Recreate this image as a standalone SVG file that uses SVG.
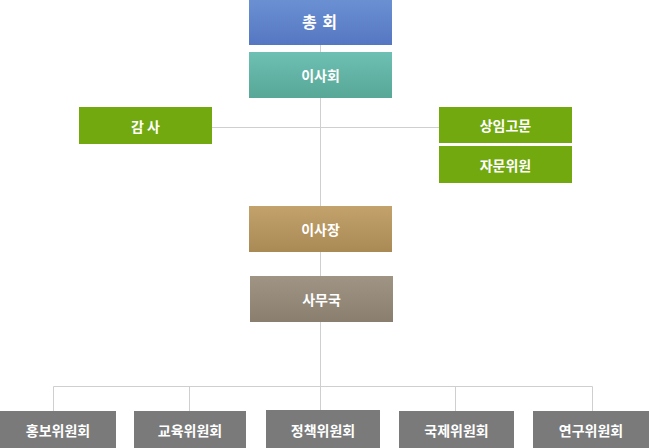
<svg xmlns="http://www.w3.org/2000/svg" width="649" height="448" viewBox="0 0 649 448">
<defs>
<linearGradient id="gBlue" x1="0" y1="0" x2="0" y2="1"><stop offset="0" stop-color="#6b90d2"/><stop offset="1" stop-color="#5577c2"/></linearGradient>
<linearGradient id="gTeal" x1="0" y1="0" x2="0" y2="1"><stop offset="0" stop-color="#6dc0b3"/><stop offset="1" stop-color="#58a797"/></linearGradient>
<linearGradient id="gGold" x1="0" y1="0" x2="0" y2="1"><stop offset="0" stop-color="#c3a26c"/><stop offset="1" stop-color="#a98a55"/></linearGradient>
<linearGradient id="gTaupe" x1="0" y1="0" x2="0" y2="1"><stop offset="0" stop-color="#a09585"/><stop offset="1" stop-color="#8a7f6f"/></linearGradient>
</defs>
<style>
text{font-family:"Noto Sans CJK KR","Noto Sans CJK SC",sans-serif;fill:#fff;text-anchor:middle;dominant-baseline:central;font-size:14px;font-weight:bold}
.green{fill:#72a90f}
.gray{fill:#7a7a7a}
.conn{stroke:#cfcfcf;stroke-width:1;fill:none}
</style>
<g id="connectors">
<path class="conn" d="M320.5 45V410"/>
<path class="conn" d="M212 127.5H439"/>
<path class="conn" d="M53.5 411V386.5H592.5V411M189.5 386.5V411M455.5 386.5V411"/>
</g>
<g id="n-chonghoe"><rect x="249" y="0" width="143" height="45" fill="url(#gBlue)"/><text x="320" y="21" style="font-size:16px;letter-spacing:1px">총 회</text></g>
<g id="n-isahoe"><rect x="249" y="52" width="143" height="46" fill="url(#gTeal)"/><text x="320.5" y="75">이사회</text></g>
<g id="n-gamsa"><rect class="green" x="79" y="107" width="133" height="37"/><text x="145.5" y="125.5">감 사</text></g>
<g id="n-sangim"><rect class="green" x="439" y="107" width="133" height="36"/><text x="505.5" y="125">상임고문</text></g>
<g id="n-jamun"><rect class="green" x="439" y="146" width="133" height="37"/><text x="505.5" y="164.5">자문위원</text></g>
<g id="n-isajang"><rect x="249" y="206" width="143" height="46" fill="url(#gGold)"/><text x="320.5" y="229">이사장</text></g>
<g id="n-samuguk"><rect x="250" y="276" width="143" height="46" fill="url(#gTaupe)"/><text x="321.5" y="299">사무국</text></g>
<g id="n-hongbo"><rect class="gray" x="0" y="411" width="116" height="37"/><text x="58" y="430">홍보위원회</text></g>
<g id="n-gyoyuk"><rect class="gray" x="134" y="411" width="112" height="37"/><text x="190" y="430">교육위원회</text></g>
<g id="n-jeongchaek"><rect class="gray" x="266" y="410" width="114" height="38"/><text x="323" y="430">정책위원회</text></g>
<g id="n-gukje"><rect class="gray" x="399" y="411" width="115" height="37"/><text x="456.5" y="430">국제위원회</text></g>
<g id="n-yeongu"><rect class="gray" x="533" y="411" width="116" height="37"/><text x="591" y="430">연구위원회</text></g>
</svg>
